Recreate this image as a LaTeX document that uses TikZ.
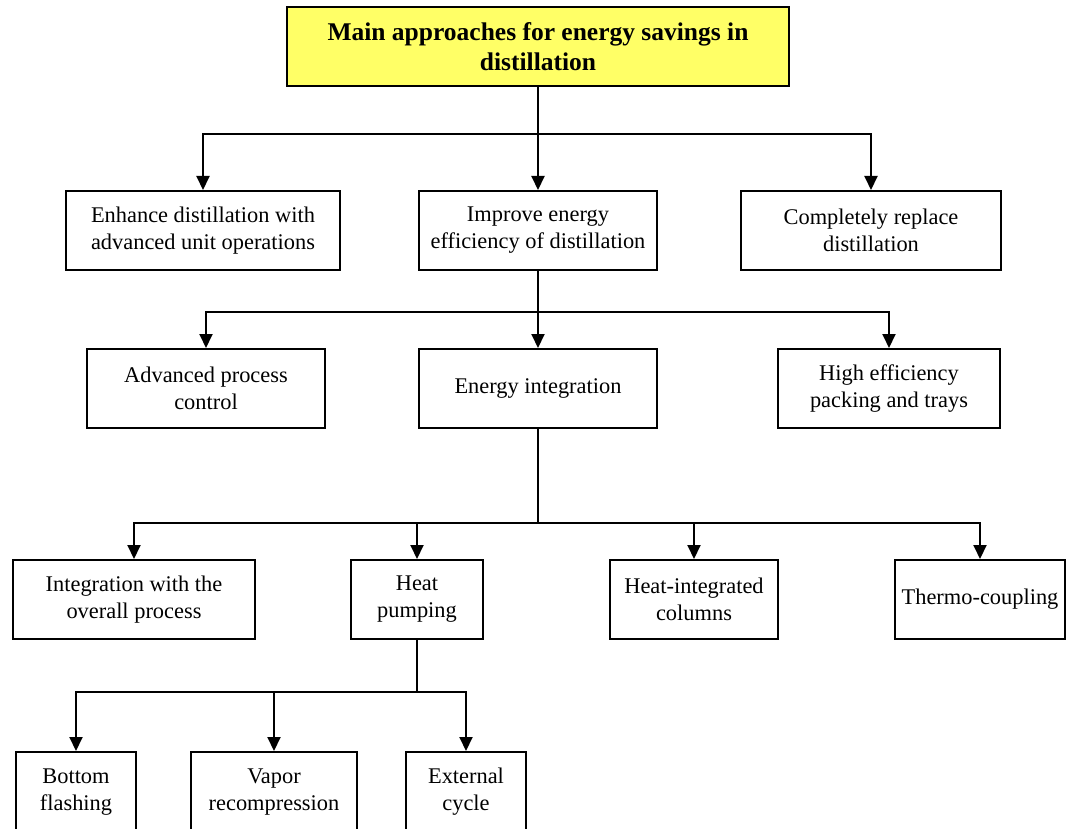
\documentclass[tikz,border=0pt]{standalone}
\usepackage{fontspec}
\setmainfont{Liberation Serif}
\usetikzlibrary{arrows.meta}
\definecolor{titleyellow}{HTML}{FFFF66}
\tikzset{
  box/.style={draw, line width=2pt, inner sep=0pt, align=center, font=\fontsize{22.4}{27}\selectfont},
  arr/.style={line width=2pt, -{Triangle[length=14pt,width=13pt]}},
}
\begin{document}
\begin{tikzpicture}[x=1pt,y=-1pt]
\clip (0,0) rectangle (1066,829);
% title
\node[box, fill=titleyellow, minimum width=502pt, minimum height=79pt, font=\fontsize{25.5}{30}\selectfont\bfseries] (root) at (538,46.5) {Main approaches for energy savings in\\distillation};
% level 1
\node[box, minimum width=274pt, minimum height=79pt] (a) at (203,230.5) {Enhance distillation with\\advanced unit operations};
\node[box, minimum width=238pt, minimum height=79pt] (b) at (538,230.5) {Improve energy\\efficiency of distillation};
\node[box, minimum width=260pt, minimum height=79pt] (c) at (871,230.5) {Completely replace\\distillation};
% level 2
\node[box, minimum width=238pt, minimum height=79pt] (d) at (206,388.5) {Advanced process\\control};
\node[box, minimum width=238pt, minimum height=79pt] (e) at (538,388.5) {Energy integration};
\node[box, minimum width=222pt, minimum height=79pt] (f) at (889,388.5) {High efficiency\\packing and trays};
% level 3
\node[box, minimum width=242pt, minimum height=79pt] (g) at (134,599.5) {Integration with the\\overall process};
\node[box, minimum width=132pt, minimum height=79pt] (h) at (417,599.5) {Heat\\pumping};
\node[box, minimum width=168pt, minimum height=79pt] (i) at (694,599.5) {Heat-integrated\\columns};
\node[box, minimum width=170pt, minimum height=79pt] (j) at (980,599.5) {Thermo-coupling};
% level 4
\node[box, minimum width=120pt, minimum height=80pt] (k) at (76,792) {Bottom\\flashing};
\node[box, minimum width=166pt, minimum height=80pt] (l) at (274,792) {Vapor\\recompression};
\node[box, minimum width=120pt, minimum height=80pt] (m) at (466,792) {External\\cycle};
% connectors
\foreach \c in {a,b,c} \draw[arr] (root.south) -- ++(0,47) -| (\c.north);
\foreach \c in {d,e,f} \draw[arr] (b.south) -- ++(0,41) -| (\c.north);
\foreach \c in {g,h,i,j} \draw[arr] (e.south) -- ++(0,94) -| (\c.north);
\foreach \c in {k,l,m} \draw[arr] (h.south) -- ++(0,52) -| (\c.north);
\end{tikzpicture}
\end{document}
